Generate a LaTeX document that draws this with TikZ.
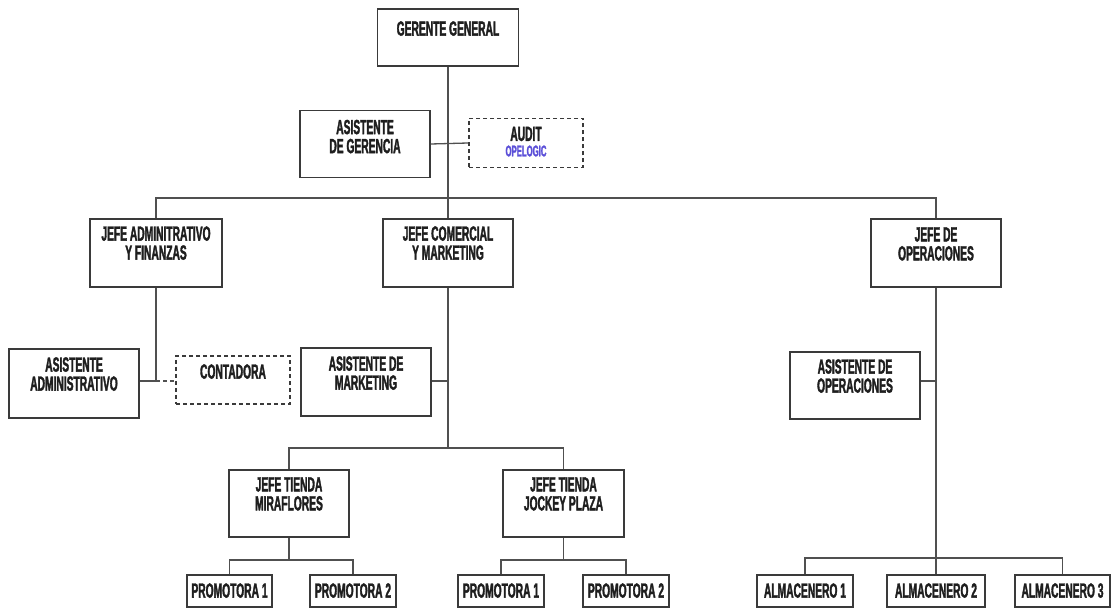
\documentclass[tikz,border=0pt]{standalone}
\usepackage{fontspec}
\newfontfamily\cond{Liberation Sans}[FakeStretch=0.5,FakeBold=1.6]
\definecolor{ink}{HTML}{1E1E1E}
\definecolor{frame}{HTML}{3A3A3A}
\definecolor{wire}{HTML}{505050}
\definecolor{brand}{HTML}{5B4FD8}
\tikzset{
  box/.style={draw=frame, line width=1.8pt, fill=white, inner sep=0pt},
  dbox/.style={box, dash pattern=on 4pt off 3pt},
  txt/.style={text=ink, inner sep=0pt, align=center, anchor=north,
    font=\cond\bfseries\fontsize{20.5}{19}\selectfont},
  sub/.style={text=brand, inner sep=0pt, anchor=north,
    font=\cond\bfseries\fontsize{15.5}{15}\selectfont},
  wire/.style={draw=wire, line width=1.3pt},
  dwire/.style={wire, dash pattern=on 4pt off 3pt}
}
\begin{document}
\begin{tikzpicture}[x=1pt,y=-1pt]
\useasboundingbox (0,0) rectangle (1112,609);

% ---- boxes ----
\node[box, minimum width=141, minimum height=57] (gg) at (448,37.5) {};
\node[box, minimum width=130, minimum height=67] (ag) at (365,144) {};
\node[dbox, minimum width=114, minimum height=49] (au) at (526,143) {};
\node[box, minimum width=132, minimum height=68] (ja) at (156,253) {};
\node[box, minimum width=130, minimum height=68] (jc) at (448,253) {};
\node[box, minimum width=130, minimum height=68] (jo) at (936,253) {};
\node[box, minimum width=130, minimum height=69] (aa) at (74,383.5) {};
\node[dbox, minimum width=114, minimum height=48] (ct) at (233,380) {};
\node[box, minimum width=130, minimum height=68] (am) at (366,382) {};
\node[box, minimum width=130, minimum height=67] (ao) at (855,385.5) {};
\node[box, minimum width=120, minimum height=67] (tm) at (289,503.5) {};
\node[box, minimum width=121, minimum height=67] (tj) at (563.5,503.5) {};
\node[box, minimum width=85, minimum height=32] (pm1) at (229.5,591) {};
\node[box, minimum width=86, minimum height=32] (pm2) at (353,591) {};
\node[box, minimum width=86, minimum height=32] (pj1) at (501,591) {};
\node[box, minimum width=86, minimum height=32] (pj2) at (626,591) {};
\node[box, minimum width=96, minimum height=32] (al1) at (805,591) {};
\node[box, minimum width=98, minimum height=32] (al2) at (936,591) {};
\node[box, minimum width=95, minimum height=32] (al3) at (1062.5,591) {};

% ---- texts ----
\node[txt] (gg-t) at ([yshift=-13pt]gg.north) {GERENTE GENERAL};
\node[txt] (ag-t) at ([yshift=-10pt]ag.north) {ASISTENTE\\DE GERENCIA};
\node[txt] (au-t) at ([yshift=-9pt]au.north) {AUDIT};
\node[sub] (au-s) at ([yshift=-4pt]au-t.south) {OPELOGIC};
\node[txt] (ja-t) at ([yshift=-8pt]ja.north) {JEFE ADMINITRATIVO\\Y FINANZAS};
\node[txt] (jc-t) at ([yshift=-8pt]jc.north) {JEFE COMERCIAL\\Y MARKETING};
\node[txt] (jo-t) at ([yshift=-9pt]jo.north) {JEFE DE\\OPERACIONES};
\node[txt] (aa-t) at ([yshift=-9pt]aa.north) {ASISTENTE\\ADMINISTRATIVO};
\node[txt] (ct-t) at ([yshift=-9pt]ct.north) {CONTADORA};
\node[txt] (am-t) at ([yshift=-9pt]am.north) {ASISTENTE DE\\MARKETING};
\node[txt] (ao-t) at ([yshift=-8pt]ao.north) {ASISTENTE DE\\OPERACIONES};
\node[txt] (tm-t) at ([yshift=-8pt]tm.north) {JEFE TIENDA\\MIRAFLORES};
\node[txt] (tj-t) at ([yshift=-8pt]tj.north) {JEFE TIENDA\\JOCKEY PLAZA};
\foreach \n/\t in {pm1/PROMOTORA 1, pm2/PROMOTORA 2, pj1/PROMOTORA 1, pj2/PROMOTORA 2,
                   al1/ALMACENERO 1, al2/ALMACENERO 2, al3/ALMACENERO 3}
  \node[txt] (\n-t) at ([yshift=-9pt]\n.north) {\t};

% ---- connectors ----
\coordinate (top) at (448,198);
\path[wire] (gg.south) -- (jc.north);
\path[wire] (ag.east) -- (au.west);
\path[wire] (ja.north) |- (top) -| (jo.north);

\coordinate (aj) at (156,381);
\path[wire] (ja.south) -- (aj) -- (aa.east |- aj);
\path[dwire] (aj) -- (ct.west |- aj);

\coordinate (mid) at (448,448);
\path[wire] (jc.south) -- (mid);
\path[wire] (am.east |- 0,381) -- (448,381);
\path[wire] (tm.north) |- (mid) -| (tj.north);

\coordinate (bm) at (289,560);
\coordinate (bj) at (563.5,560);
\path[wire] (tm.south) -- (bm);
\path[wire] (pm1.north) |- (bm) -| (pm2.north);
\path[wire] (tj.south) -- (bj);
\path[wire] (pj1.north) |- (bj) -| (pj2.north);

\coordinate (bo) at (936,558);
\path[wire] (jo.south) -- (al2.north);
\path[wire] (ao.east |- 0,381) -- (936,381);
\path[wire] (al1.north) |- (bo) -| (al3.north);
\end{tikzpicture}
\end{document}
